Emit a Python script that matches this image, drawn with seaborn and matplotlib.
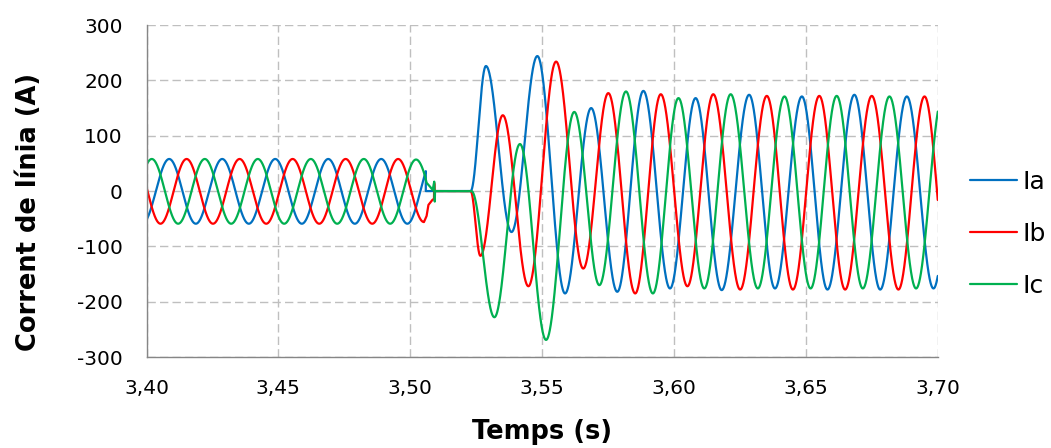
import numpy as np
import pandas as pd
import matplotlib
matplotlib.use("Agg")
import matplotlib.pyplot as plt
from matplotlib.ticker import FuncFormatter
import seaborn as sns

# Corrents de línia abans i després de l'obertura (valors llegits del gràfic)
FASES = ["Ia", "Ib", "Ic"]
COLORS = ["#0070C0", "#FF0000", "#00B050"]
XTICKS = [3.40, 3.45, 3.50, 3.55, 3.60, 3.65, 3.70]
YTICKS = [-300, -200, -100, 0, 100, 200, 300]

# Règim inicial: extrems de cada fase (s, A)
IA_PRE_T = [3.3985, 3.4086, 3.4187, 3.4287, 3.4388, 3.4488, 3.4589, 3.4689, 3.4790, 3.4890, 3.4989, 3.5087]
IA_PRE_V = [-58, 58, -59, 58, -59, 58, -59, 58, -59, 58, -59, 58]
IB_PRE_T = [3.3955, 3.4053, 3.4152, 3.4252, 3.4353, 3.4454, 3.4554, 3.4655, 3.4755, 3.4856, 3.4954, 3.5052]
IB_PRE_V = [58, -59, 58, -59, 58, -59, 58, -59, 58, -59, 58, -56]
IC_PRE_T = [3.3919, 3.4020, 3.4120, 3.4221, 3.4321, 3.4422, 3.4522, 3.4623, 3.4723, 3.4824, 3.4924, 3.5022, 3.5122]
IC_PRE_V = [-58, 58, -59, 58, -59, 58, -59, 58, -59, 58, -59, 57, -58]

# Instant d'obertura de cada fase
TALL_T = [3.5059, 3.5052, 3.5056]

# Transitori d'obertura (s, A)
IA_CUA_T = [3.5059, 3.5088]
IA_CUA_V = [0, 0]
IB_CUA_T = [3.5062, 3.5069, 3.5084, 3.5090, 3.5091, 3.5092]
IB_CUA_V = [-45, -25, -16, -14, 14, 0]
IC_CUA_T = [3.5062, 3.5075, 3.5085, 3.5091, 3.5093, 3.5094]
IC_CUA_V = [15, 8, 2, 17, -19, 0]

# Reconnexió: extrems de cada fase (s, A)
IA_POST_T = [3.5229, 3.5287, 3.5384, 3.5482, 3.5587, 3.5686, 3.5785, 3.5884, 3.5985, 3.6082,
             3.6181, 3.6285, 3.6383, 3.6485, 3.6582, 3.6684, 3.6782, 3.6883, 3.6984, 3.7083]
IA_POST_V = [0, 226, -74, 244, -185, 150, -182, 181, -176, 168,
             -179, 174, -176, 171, -178, 174, -178, 171, -176, 172]
IB_POST_T = [3.5229, 3.5266, 3.5351, 3.5448, 3.5553, 3.5656, 3.5751, 3.5853, 3.5950, 3.6051,
             3.6149, 3.6251, 3.6352, 3.6451, 3.6551, 3.6649, 3.6750, 3.6851, 3.6950, 3.7046]
IB_POST_V = [0, -117, 137, -172, 234, -140, 177, -185, 175, -172,
             175, -178, 172, -178, 172, -178, 172, -178, 171, -178]
IC_POST_T = [3.5232, 3.5319, 3.5416, 3.5515, 3.5622, 3.5717, 3.5818, 3.5920, 3.6017, 3.6115,
             3.6215, 3.6318, 3.6419, 3.6518, 3.6617, 3.6716, 3.6817, 3.6918, 3.7019]
IC_POST_V = [0, -228, 85, -269, 143, -170, 180, -185, 168, -176,
             175, -176, 171, -176, 172, -176, 171, -176, 172]


def ona(tk, vk, t):
    """Traç suau (mig cosinus) entre extrems consecutius."""
    tk = np.asarray(tk, dtype=float)
    vk = np.asarray(vk, dtype=float)
    i = np.clip(np.searchsorted(tk, t, side="right") - 1, 0, len(tk) - 2)
    f = (t - tk[i]) / (tk[i + 1] - tk[i])
    return vk[i] + (vk[i + 1] - vk[i]) * (1 - np.cos(np.pi * f)) / 2


def corba(pre_t, pre_v, tall, cua_t, cua_v, post_t, post_v, pas=0.00004):
    t1 = np.append(np.arange(XTICKS[0], tall, pas), tall)
    t3 = np.arange(post_t[0], post_t[-1], pas)
    t = np.concatenate([t1, cua_t, t3])
    v = np.concatenate([ona(pre_t, pre_v, t1), cua_v, ona(post_t, post_v, t3)])
    return t, v


dades = [
    (IA_PRE_T, IA_PRE_V, TALL_T[0], IA_CUA_T, IA_CUA_V, IA_POST_T, IA_POST_V),
    (IB_PRE_T, IB_PRE_V, TALL_T[1], IB_CUA_T, IB_CUA_V, IB_POST_T, IB_POST_V),
    (IC_PRE_T, IC_PRE_V, TALL_T[2], IC_CUA_T, IC_CUA_V, IC_POST_T, IC_POST_V),
]

frames = []
for fase, d in zip(FASES, dades):
    t, v = corba(*d)
    frames.append(pd.DataFrame({"t": t, "I": v, "fase": fase}))
df = pd.concat(frames, ignore_index=True)

sns.set_theme(style="white")
plt.rcParams["font.family"] = ["DejaVu Sans"]
plt.rcParams["axes.unicode_minus"] = False

fig, ax = plt.subplots(figsize=(10.51, 4.48), dpi=100)
fig.subplots_adjust(left=0.1394, right=0.8922, bottom=0.203, top=0.944)

sns.lineplot(data=df, x="t", y="I", hue="fase", hue_order=FASES, palette=COLORS,
             estimator=None, sort=False, linewidth=1.6, ax=ax)

handles, labels = ax.get_legend_handles_labels()
ax.get_legend().remove()

ax.set_xlim(XTICKS[0], XTICKS[-1])
ax.set_ylim(YTICKS[0], YTICKS[-1])
ax.set_xticks(XTICKS)
ax.set_yticks(YTICKS)
ax.xaxis.set_major_formatter(FuncFormatter(lambda v, p: f"{v:.2f}".replace(".", ",")))

ax.set_axisbelow(True)
ax.grid(True, color="#BFBFBF", linestyle=(0, (6, 3)), linewidth=1)
for s in ["top", "right"]:
    ax.spines[s].set_visible(False)
for s in ["left", "bottom"]:
    ax.spines[s].set_color("#868686")
    ax.spines[s].set_linewidth(1)

ax.tick_params(axis="x", direction="inout", length=10, width=1, color="#868686",
               labelsize=14.5, labelcolor="black", pad=11)
ax.tick_params(axis="y", direction="out", length=7, width=1, color="#868686",
               labelsize=14.5, labelcolor="black", pad=10)

ax.set_xlabel("Temps (s)", fontsize=18.5, fontweight="bold", color="black")
ax.set_ylabel("Corrent de línia (A)", fontsize=18.5, fontweight="bold", color="black")
ax.xaxis.label.set_va("center")
ax.yaxis.label.set_va("center")
ax.xaxis.set_label_coords(0.5, -0.226)
ax.yaxis.set_label_coords(-0.1485, 0.438)

leg = fig.legend(handles, labels, loc="center left", bbox_to_anchor=(0.9229, 0.4777),
                 frameon=False, fontsize=18, handlelength=1.9, handletextpad=0.2,
                 labelspacing=1.12, borderpad=0, borderaxespad=0)
for txt in leg.get_texts():
    txt.set_color("black")

plt.savefig("out.png", dpi=100)
plt.close()
